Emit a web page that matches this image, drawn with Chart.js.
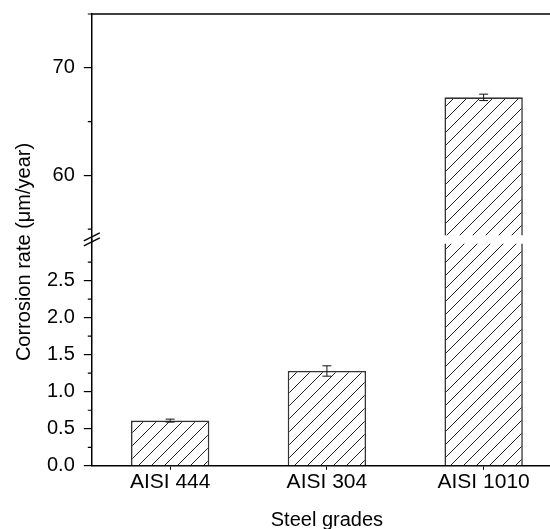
<!DOCTYPE html>
<html>
<head>
<meta charset="utf-8">
<script src="https://cdn.jsdelivr.net/npm/chart.js@4"></script>
<style>
  html, body { margin: 0; padding: 0; background: #fff; overflow: hidden; }
  #wrap { width: 572px; height: 539px; margin-top: -7px; }
</style>
</head>
<body>
<div id="wrap"><canvas id="chart"></canvas></div>
<script>
const grades = ['AISI 444', 'AISI 304', 'AISI 1010'];
const rates = [0.61, 1.28, 67.25];
const errors = [0.02, 0.07, 0.3];

const lowTicks = [0, 0.5, 1, 1.5, 2, 2.5];
const lowMinorTicks = [0.25, 0.75, 1.25, 1.75, 2.25, 2.75];
const highTicks = [60, 70];
const highMinorTicks = [55, 65, 75];

// broken axis: lower part 0..3, upper part 54.4..75
const lowMin = 0, lowMax = 3.05, lowCut = 3.0;
const highMin = 54, highMax = 75, highCut = 54.4;

const FONT = 'Liberation Sans, Arial, sans-serif';

function hatch() {
    const s = 13;
    const c = document.createElement('canvas');
    c.width = s; c.height = s;
    const g = c.getContext('2d');
    g.fillStyle = '#fff';
    g.fillRect(0, 0, s, s);
    g.strokeStyle = '#222';
    g.lineWidth = 1;
    g.beginPath();
    g.moveTo(0, s); g.lineTo(s, 0);
    g.moveTo(-2, 2); g.lineTo(2, -2);
    g.moveTo(s - 2, s + 2); g.lineTo(s + 2, s - 2);
    g.stroke();
    return g.createPattern(c, 'repeat');
}

const extras = {
    id: 'extras',
    afterDraw(chart) {
        const ctx = chart.ctx;
        const area = chart.chartArea;
        const yLow = chart.scales.y, yHigh = chart.scales.y2;
        ctx.save();
        ctx.strokeStyle = '#000';

        // top border line
        ctx.lineWidth = 1.5;
        ctx.beginPath();
        ctx.moveTo(area.left, area.top);
        ctx.lineTo(area.right + 20, area.top);
        ctx.stroke();

        // minor ticks
        ctx.lineWidth = 1.2;
        ctx.beginPath();
        lowMinorTicks.forEach(v => {
            const y = yLow.getPixelForValue(v);
            ctx.moveTo(area.left - 4, y); ctx.lineTo(area.left, y);
        });
        highMinorTicks.forEach(v => {
            const y = yHigh.getPixelForValue(v);
            ctx.moveTo(area.left - 4, y); ctx.lineTo(area.left, y);
        });
        ctx.stroke();

        // break marks
        const yb = yLow.top;
        ctx.lineWidth = 1.4;
        ctx.beginPath();
        [-3, 2].forEach(d => {
            ctx.moveTo(area.left - 8, yb + d + 4);
            ctx.lineTo(area.left + 8, yb + d - 4);
        });
        ctx.stroke();

        // error bars
        ctx.lineWidth = 1;
        ctx.strokeStyle = '#111';
        const meta = chart.getDatasetMeta(0);
        rates.forEach((v, i) => {
            const sc = v > highCut ? yHigh : yLow;
            const x = meta.data[i].x;
            const y1 = sc.getPixelForValue(v - errors[i]);
            const y2 = sc.getPixelForValue(v + errors[i]);
            ctx.beginPath();
            ctx.moveTo(x, y1); ctx.lineTo(x, y2);
            ctx.moveTo(x - 4.5, y1); ctx.lineTo(x + 4.5, y1);
            ctx.moveTo(x - 4.5, y2); ctx.lineTo(x + 4.5, y2);
            ctx.stroke();
        });

        // y title
        ctx.fillStyle = '#000';
        ctx.font = '20px ' + FONT;
        ctx.textAlign = 'center';
        ctx.textBaseline = 'middle';
        ctx.translate(24, 252 + 7);
        ctx.rotate(-Math.PI / 2);
        ctx.fillText('Corrosion rate (\u03bcm/year)', 0, 0);
        ctx.restore();
    }
};

document.addEventListener('DOMContentLoaded', () => {
    const fill = hatch();
    const side = 1.6;

    const yAxis = (min, max, ticks, weight) => ({
        type: 'linear',
        position: 'left',
        stack: 'rate',
        stackWeight: weight,
        min: min,
        max: max,
        afterBuildTicks: scale => { scale.ticks = ticks.map(v => ({ value: v })); },
        border: { display: true, color: '#000', width: 1.5 },
        grid: { drawOnChartArea: false, tickLength: 8, color: '#000', lineWidth: 1.2 },
        ticks: {
            color: '#000',
            padding: 9,
            autoSkip: false,
            font: { family: FONT, size: 20 },
            callback: v => (max < 10 ? v.toFixed(1) : String(v))
        }
    });

    new Chart(document.getElementById('chart'), {
        type: 'bar',
        data: {
            labels: grades,
            datasets: [{
                data: rates.map(v => Math.min(v, lowCut)),
                yAxisID: 'y',
                grouped: false,
                backgroundColor: fill,
                borderColor: '#333',
                borderSkipped: false,
                borderWidth: c => rates[c.dataIndex] > lowCut
                    ? { top: 0, left: side, right: side, bottom: 0 }
                    : { top: side, left: side, right: side, bottom: 0 },
                barPercentage: 0.5,
                categoryPercentage: 1
            }, {
                data: rates.map(v => (v > highCut ? [highCut, v] : null)),
                yAxisID: 'y2',
                grouped: false,
                backgroundColor: fill,
                borderColor: '#333',
                borderSkipped: false,
                borderWidth: { top: side, left: side, right: side, bottom: 0 },
                barPercentage: 0.5,
                categoryPercentage: 1
            }]
        },
        options: {
            responsive: true,
            maintainAspectRatio: false,
            animation: false,
            layout: { padding: { left: 38, top: 6, right: 10, bottom: 0 } },
            plugins: { legend: { display: false }, tooltip: { enabled: false } },
            scales: {
                x: {
                    border: { display: true, color: '#000', width: 1.5 },
                    grid: { offset: false, drawOnChartArea: false, tickLength: 4, color: '#000', lineWidth: 1 },
                    ticks: { color: '#000', padding: 0, font: { family: FONT, size: 21 } },
                    title: {
                        display: true,
                        text: 'Steel grades',
                        color: '#000',
                        padding: { top: 13, bottom: 0 },
                        font: { family: FONT, size: 20 }
                    }
                },
                y: yAxis(lowMin, lowMax, lowTicks, 1),
                y2: yAxis(highMin, highMax, highTicks, 1)
            }
        },
        plugins: [extras]
    });
});
</script>
</body>
</html>
